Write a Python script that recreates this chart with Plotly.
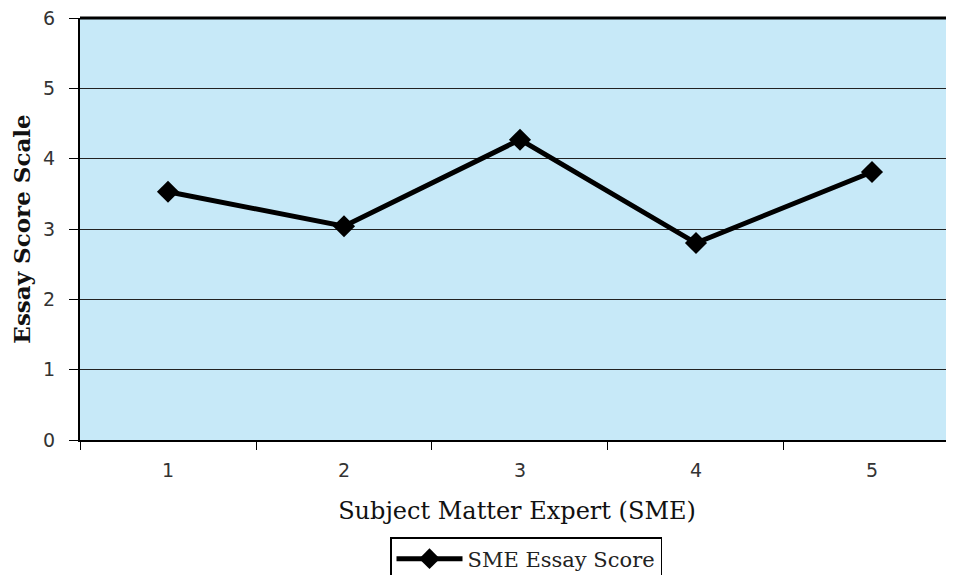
import plotly.graph_objects as go

categories = ["1", "2", "3", "4", "5"]
scores = [3.53, 3.04, 4.27, 2.80, 3.81]
series_name = "SME Essay Score"
y_ticks = [0, 1, 2, 3, 4, 5, 6]

fig = go.Figure()
fig.add_trace(go.Scatter(
    x=categories, y=scores, mode="lines+markers", name=series_name,
    line=dict(color="black", width=5),
    marker=dict(symbol="diamond", size=17, color="black"),
))

FIG_H = 567
tick_font = dict(family="DejaVu Sans", size=19, color="#333333")
fig.update_layout(
    width=946, height=FIG_H,
    margin=dict(l=72, r=0, t=10, b=135),
    paper_bgcolor="white",
    plot_bgcolor="#C7E9F8",
    showlegend=True,
    legend=dict(xref="paper", yref="container",
                x=(390 - 80) / 874, y=1 - (537 - 8) / FIG_H, xanchor="left", yanchor="top",
                bordercolor="black", borderwidth=1.5, itemwidth=66,
                font=dict(family="DejaVu Serif", size=21, color="#222222")),
    xaxis=dict(type="category", range=[-0.5, 4.466], automargin=False,
               tickson="boundaries", ticks="outside", ticklen=8, tickcolor="black",
               showline=True, linecolor="black", linewidth=2, ticklabelstandoff=12,
               showgrid=False, zeroline=False, tickfont=tick_font,
               title=dict(text="Subject Matter Expert (SME)", standoff=22,
                          font=dict(family="DejaVu Serif", size=24, color="#111111"))),
    yaxis=dict(range=[0, 6], tickvals=y_ticks, ticks="outside", ticklen=9, automargin=False,
               tickcolor="black", showline=True, linecolor="black", linewidth=2,
               showgrid=True, gridcolor="#222222", gridwidth=1, zeroline=False,
               tickfont=tick_font, ticklabelstandoff=10, ticklabeloverflow="allow",
               title=dict(text="<b>Essay Score Scale</b>", standoff=14,
                          font=dict(family="DejaVu Serif", size=23, color="#111111"))),
)
fig.add_shape(type="line", xref="paper", yref="paper", x0=0, x1=1, y0=1, y1=1,
              line=dict(color="black", width=3))

fig.write_html("out.html")
